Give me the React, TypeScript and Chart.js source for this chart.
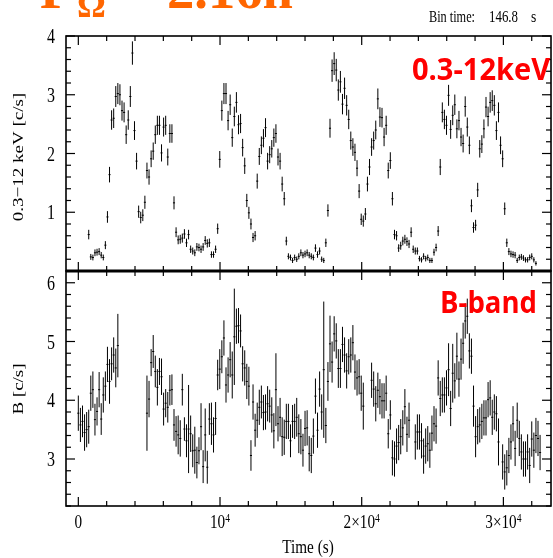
import React, { useEffect, useRef } from "react";
import { Chart, registerables } from "chart.js";

Chart.register(...registerables);

// ---------- data ----------
const BIN_TIME = 146.8;
const XRAY_START = 734;
const B_START = 0;
const X_MIN = -870;
const X_MAX = 33360;
const TOP_Y_MIN = 0;
const TOP_Y_MAX = 4;
const BOT_Y_MIN = 2.2;
const BOT_Y_MAX = 6.2;

const xrayRate = [
  0.62, 0.24, 0.23, 0.31, 0.32, 0.33, 0.27, 0.23, 0.44, 0.92,
  1.64, 2.57, 2.6, 2.97, 3.02, 3.0, 2.73, 2.7, 2.32, 2.57,
  2.97, 3.71, 2.39, 1.87, 1.01, 0.91, 0.95, 1.17, 1.71, 1.6,
  1.91, 2.04, 2.32, 2.48, 2.48, 2.01, 2.45, 2.48, 1.94, 2.34,
  2.34, 1.16, 0.66, 0.53, 0.54, 0.56, 0.63, 0.48, 0.62, 0.37,
  0.34, 0.31, 0.41, 0.4, 0.37, 0.41, 0.52, 0.47, 0.48, 0.28,
  0.28, 0.37, 0.72, 1.9, 2.73, 3.02, 3.02, 2.56, 2.83, 2.27,
  2.63, 2.87, 2.49, 2.51, 2.1, 1.79, 1.2, 0.99, 0.8, 0.57,
  0.6, 1.53, 1.95, 2.14, 2.26, 2.44, 1.87, 1.98, 2.08, 2.27,
  2.34, 1.94, 1.87, 1.48, 1.23, 0.51, 0.25, 0.23, 0.18, 0.23,
  0.2, 0.25, 0.31, 0.27, 0.29, 0.31, 0.27,
  0.25, 0.23, 0.39, 0.28, 0.34, 0.2, 0.18, 0.48, 1.03, 2.43,
  3.41, 3.53, 3.42, 3.08, 3.22, 2.84, 3.11, 2.82, 2.58, 2.22,
  2.11, 2.02, 1.75, 1.36, 0.88, 0.85, 0.97, 1.48, 1.77, 2.11,
  2.22, 2.4, 2.93, 2.62, 2.61, 2.28, 2.48, 1.71, 1.88, 1.23,
  0.62, 0.6, 0.39, 0.43, 0.51, 0.54, 0.5, 0.46, 0.66, 0.37,
  0.34, 0.34, 0.21, 0.19, 0.25, 0.21, 0.23, 0.18, 0.18, 0.32,
  0.4, 0.68, 1.77, 2.7, 2.58, 2.48, 2.99, 2.41, 2.65, 2.83,
  2.42, 2.56, 2.28, 2.17, 2.8, 2.45, 2.14, 1.11, 0.74, 0.78,
  1.38, 2.08, 2.16, 2.42, 2.79, 2.63, 2.87, 2.9, 2.82, 2.39,
  2.7, 2.14, 1.91, 1.06, 0.48, 0.33, 0.29, 0.28, 0.27, 0.18,
  0.23, 0.24, 0.22, 0.19, 0.19, 0.23, 0.25, 0.19, 0.13,
];

const N = null;
const bRate: (number | null)[] = [
  3.78, 3.58, 3.64, 3.45, 3.5, 3.55, 4.12, 4.18, 3.67, 3.81,
  4.18, 3.68, 4.09, 4.24, 4.61, 4.32, 4.62, 4.77, 4.55, 4.93,
  N, N, N, N, N, N, N, N, N, N, N, N, N,
  3.78, 4.02, 4.64, 4.83, 4.49, 4.22, 4.49, 4.4, 3.85, 3.95,
  3.88, 4.17, 4.18, 3.58, 3.47, 3.41, 3.35, 4.18, 3.51, 3.31,
  3.51, 3.43, 3.14, 3.15, 2.94, 3.14, 3.55, 2.87, 3.41, 2.86,
  3.68, 3.6, 3.41, 3.69, 4.43, 4.53, 4.74, 5.06, 4.26, 4.43,
  4.69, 4.43, 5.08, 5.26, 5.27, 5.18, 4.62, 4.55, 4.32, 4.24,
  3.06, 3.97, 3.49, 3.66, 3.88, 3.97, 3.79, 3.8, 3.94, 3.9,
  3.75, 3.48, 4.18, 3.6, 3.71, 3.38, 3.37, 3.64, 3.64, 3.31,
  3.64, 3.64, 3.71, 3.43, 3.38, 3.15, 3.52, 3.53, 3.09, 3.06,
  3.39, 4.07, 3.49, 4.19, 3.8, 4.52, 3.57, 4.32, 4.96, 4.65,
  5.13, 5.01, 4.54, 4.54, 4.95, 4.77, 4.5, 4.74, 4.77, 4.98,
  4.48, 4.38, 4.4, 4.12, 3.9,
  N, N, N,
  4.34, 4.19, 3.94, 4.17, 4.06, 3.99, 3.99, 4.12, 3.43, 3.75, 3.02,
  3.0, 3.22, 3.28, 3.38, 3.53, 3.89, 3.42, 3.66,
  N, N,
  3.29, 3.46, 3.46, 3.31, 3.05, 3.22, 3.26, 3.15, 3.44, 3.6, 3.56,
  4.38, 4.03, 4.09, 4.09, 4.21, 4.52, 3.86, 4.46, 4.33, 4.75,
  4.36, 4.7, 4.97, 5.35, 5.43, 4.84, 4.75, 3.9, 3.38, 3.55,
  3.58, 3.64, 3.7, 3.7, 4.01, 4.04, 3.71, 3.8, 3.77, 3.29,
  N,
  2.95, 2.78, 2.85, 3.06, 3.29, 3.6, 3.18, 3.66, 3.35, 3.12,
  3.0, 3.0, 3.12, 2.89, 3.34, 3.15, 3.4, 3.35, 3.11,
];

const bErr: (number | null)[] = [
  0.3, 0.29, 0.27, 0.31, 0.3, 0.29, 0.3, 0.31, 0.27, 0.24,
  0.3, 0.27, 0.3, 0.25, 0.3, 0.38, 0.28, 0.3, 0.33, 0.54,
  N, N, N, N, N, N, N, N, N, N, N, N, N,
  0.64, 0.31, 0.23, 0.28, 0.27, 0.31, 0.23, 0.31, 0.28, 0.24,
  0.26, 0.26, 0.26, 0.27, 0.26, 0.33, 0.31, 0.27, 0.2, 0.28,
  0.75, 0.31, 0.28, 0.4, 0.27, 0.23, 0.4, 0.28, 0.45, 0.28,
  0.27, 0.36, 0.3, 0.28, 0.26, 0.34, 0.28, 0.3, 0.3, 0.3,
  0.3, 0.4, 0.82, 0.3, 0.3, 0.28, 0.3, 0.3, 0.3, 0.33,
  0.26, 0.3, 0.28, 0.3, 0.3, 0.28, 0.3, 0.3, 0.3, 0.28,
  0.3, 0.3, 0.62, 0.3, 0.33, 0.33, 0.3, 0.3, 0.3, 0.28,
  0.28, 0.3, 0.33, 0.33, 0.3, 0.28, 0.3, 0.3, 0.3, 0.3,
  0.3, 0.3, 0.3, 0.3, 0.3, 1.16, 0.3, 0.33, 0.48, 0.35,
  0.3, 0.3, 0.33, 0.33, 0.3, 0.3, 0.3, 0.3, 0.3, 0.3,
  0.3, 0.3, 0.3, 0.3, 0.4,
  N, N, N,
  0.3, 0.3, 0.3, 0.3, 0.3, 0.3, 0.3, 0.3, 0.25, 0.25, 0.3,
  0.3, 0.3, 0.3, 0.3, 0.3, 0.3, 0.3, 0.3,
  N, N,
  0.3, 0.3, 0.3, 0.3, 0.3, 0.3, 0.3, 0.3, 0.3, 0.3, 0.3,
  0.3, 0.3, 0.3, 0.3, 0.3, 0.45, 0.3, 0.5, 0.3, 0.4,
  0.3, 0.35, 0.35, 0.3, 0.3, 0.3, 0.3, 0.35, 0.35, 0.3,
  0.3, 0.3, 0.3, 0.3, 0.3, 0.3, 0.3, 0.3, 0.3, 0.4,
  N,
  0.3, 0.3, 0.3, 0.3, 0.3, 0.3, 0.3, 0.3, 0.3, 0.3,
  0.3, 0.3, 0.3, 0.3, 0.3, 0.3, 0.3, 0.3, 0.3,
];

const xMajorTicks = [0, 10000, 20000, 30000];
const xTickBase = ["0", "10", "2×10", "3×10"];
const xTickExp = ["", "4", "4", "4"];
const topYTicks = [1, 2, 3, 4];
const botYTicks = [3, 4, 5, 6];

// ---------- drawing helpers ----------
const SERIF = '"Liberation Serif", "Times New Roman", serif';
const SANS = '"Open Sans", "Liberation Sans", Arial, sans-serif';
const SX = 0.8;

function drawText(ctx: any, text: string, x: number, y: number, font: string, color: string, sx = 1, align = "left") {
  ctx.save();
  ctx.font = font;
  ctx.fillStyle = color;
  const w = ctx.measureText(text).width * sx;
  let left = x;
  if (align === "center") left = x - w / 2;
  else if (align === "right") left = x - w;
  ctx.translate(left, y);
  ctx.scale(sx, 1);
  ctx.textAlign = "left";
  ctx.textBaseline = "alphabetic";
  ctx.fillText(text, 0, 0);
  ctx.restore();
}

function drawFit(ctx: any, text: string, left: number, y: number, font: string, color: string, width: number) {
  ctx.save();
  ctx.font = font;
  const w = ctx.measureText(text).width;
  ctx.restore();
  drawText(ctx, text, left, y, font, color, width / w, "left");
}

function drawRot(ctx: any, text: string, cx: number, cy: number, font: string, sx: number) {
  ctx.save();
  ctx.font = font;
  ctx.fillStyle = "#000";
  ctx.translate(cx, cy);
  ctx.scale(sx, 1);
  ctx.rotate(-Math.PI / 2);
  ctx.textAlign = "center";
  ctx.textBaseline = "middle";
  ctx.fillText(text, 0, 0);
  ctx.restore();
}

function line(ctx: any, x1: number, y1: number, x2: number, y2: number) {
  ctx.beginPath();
  ctx.moveTo(x1, y1);
  ctx.lineTo(x2, y2);
  ctx.stroke();
}

function drawFrameTicks(chart: any, yMin: number, yMax: number, yLabels: number[]) {
  const { ctx, chartArea } = chart;
  const { left, right, top, bottom } = chartArea;
  const xs = chart.scales.x;
  const ys = chart.scales.y;
  ctx.save();
  ctx.strokeStyle = "#000";
  ctx.lineWidth = 1.2;
  for (let t = 0; t <= X_MAX; t += 2000) {
    const px = xs.getPixelForValue(t);
    const len = t % 10000 === 0 ? 9 : 5;
    line(ctx, px, top, px, top + len);
    line(ctx, px, bottom, px, bottom - len);
  }
  const n = Math.round((yMax - yMin) / 0.2);
  for (let k = 0; k <= n; k++) {
    const v = yMin + k * 0.2;
    const py = ys.getPixelForValue(v);
    const major = Math.abs(v - Math.round(v)) < 1e-6;
    const len = major ? 9 : 5;
    line(ctx, left, py, left + len, py);
    line(ctx, right, py, right - len, py);
  }
  ctx.lineWidth = 1.6;
  ctx.strokeRect(left, top, right - left, bottom - top);
  ctx.restore();
  const yFont = `20px ${SERIF}`;
  yLabels.forEach((v) => {
    const py = ys.getPixelForValue(v);
    drawText(ctx, String(v), 55, py + 7, yFont, "#000", SX, "right");
  });
}

const errorBarPlugin = {
  id: "errorBars",
  afterDatasetsDraw(chart: any) {
    const { ctx, chartArea } = chart;
    const xs = chart.scales.x;
    const ys = chart.scales.y;
    ctx.save();
    ctx.beginPath();
    ctx.rect(chartArea.left, chartArea.top, chartArea.right - chartArea.left, chartArea.bottom - chartArea.top);
    ctx.clip();
    ctx.strokeStyle = "#000";
    ctx.lineWidth = 1;
    chart.data.datasets.forEach((ds: any, di: number) => {
      const meta = chart.getDatasetMeta(di);
      meta.data.forEach((el: any, i: number) => {
        const p = ds.data[i];
        const x = el.x;
        const y = el.y;
        const y1 = ys.getPixelForValue(p.y - p.err);
        const y2 = ys.getPixelForValue(p.y + p.err);
        const xa = xs.getPixelForValue(p.x - BIN_TIME / 2);
        const xb = xs.getPixelForValue(p.x + BIN_TIME / 2);
        ctx.beginPath();
        ctx.moveTo(x, y1);
        ctx.lineTo(x, y2);
        ctx.moveTo(xa, y);
        ctx.lineTo(xb, y);
        ctx.stroke();
      });
    });
    ctx.restore();
  },
};

const topDecor = {
  id: "topDecor",
  afterDraw(chart: any) {
    const { ctx, chartArea } = chart;
    drawFrameTicks(chart, TOP_Y_MIN, TOP_Y_MAX, topYTicks);
    ctx.save();
    ctx.strokeStyle = "#000";
    ctx.lineWidth = 3;
    line(ctx, chartArea.left, chartArea.bottom, chartArea.right, chartArea.bottom);
    ctx.restore();
    // y title
    drawRot(ctx, "0.3\u221212 keV [c/s]", 19, 157, `19px ${SERIF}`, SX);
    // title (cropped at top)
    const orange = "#FF6600";
    drawText(ctx, "P", 40, 8, `bold 54px ${SERIF}`, orange);
    drawText(ctx, "\u03A9", 77, 17, `bold 36px ${SERIF}`, orange);
    drawText(ctx, "=", 118, 8, `bold 54px ${SERIF}`, orange);
    drawFit(ctx, "2.16h", 167, 8, `bold 54px ${SERIF}`, orange, 126);
    // bin time
    drawFit(ctx, "Bin time:", 429, 22, `17px ${SERIF}`, "#000", 46);
    drawFit(ctx, "146.8", 489, 22, `17px ${SERIF}`, "#000", 29);
    drawText(ctx, "s", 531, 22, `17px ${SERIF}`, "#000", SX);
    // band label
    drawFit(ctx, "0.3-12keV", 412, 80, `bold 30px ${SANS}`, "#FF0000", 138);
  },
};

const BOT_OFFSET = 262;
const botDecor = {
  id: "botDecor",
  afterDraw(chart: any) {
    const { ctx } = chart;
    drawFrameTicks(chart, BOT_Y_MIN, BOT_Y_MAX, botYTicks);
    const xs = chart.scales.x;
    drawRot(ctx, "B [c/s]", 19, 389 - BOT_OFFSET, `19px ${SERIF}`, SX);
    const baseFont = `19px ${SERIF}`;
    const expFont = `12px ${SERIF}`;
    xMajorTicks.forEach((t, i) => {
      const px = xs.getPixelForValue(t);
      ctx.save();
      ctx.font = baseFont;
      const wb = ctx.measureText(xTickBase[i]).width * SX;
      ctx.font = expFont;
      const we = xTickExp[i] ? ctx.measureText(xTickExp[i]).width * SX : 0;
      ctx.restore();
      const start = px - (wb + we) / 2;
      const base = 528 - BOT_OFFSET;
      drawText(ctx, xTickBase[i], start, base, baseFont, "#000", SX);
      if (xTickExp[i]) drawText(ctx, xTickExp[i], start + wb, base - 6, expFont, "#000", SX);
    });
    drawText(ctx, "Time (s)", 308, 553 - BOT_OFFSET, `19px ${SERIF}`, "#000", SX, "center");
    drawFit(ctx, "B-band", 440, 313 - BOT_OFFSET, `bold 30px ${SANS}`, "#FF0000", 97);
  },
};

function makeConfig(points: any[], yMin: number, yMax: number, padding: any, decor: any): any {
  return {
    type: "scatter",
    data: {
      datasets: [
        { data: points, pointRadius: 0, pointHoverRadius: 0, showLine: false, borderColor: "#000", backgroundColor: "#000" },
      ],
    },
    options: {
      animation: false,
      responsive: false,
      maintainAspectRatio: false,
      devicePixelRatio: 1,
      events: [],
      layout: { padding },
      plugins: { legend: { display: false }, tooltip: { enabled: false }, title: { display: false } },
      scales: {
        x: { type: "linear", display: false, min: X_MIN, max: X_MAX },
        y: { type: "linear", display: false, min: yMin, max: yMax },
      },
    },
    plugins: [errorBarPlugin, decor],
  };
}

export default function App() {
  const topRef = useRef<HTMLCanvasElement>(null);
  const botRef = useRef<HTMLCanvasElement>(null);

  useEffect(() => {
    const xrayPoints = xrayRate.map((v, i) => ({
      x: XRAY_START + i * BIN_TIME,
      y: v,
      err: Math.sqrt(v / BIN_TIME) * 1.25,
    }));
    const bPoints: any[] = [];
    bRate.forEach((v, i) => {
      if (v == null) return;
      bPoints.push({ x: B_START + i * BIN_TIME, y: v, err: bErr[i] ?? 0.3 });
    });
    const top = new Chart(
      topRef.current as HTMLCanvasElement,
      makeConfig(xrayPoints, TOP_Y_MIN, TOP_Y_MAX, { left: 66, right: 2, top: 36, bottom: 9 }, topDecor)
    );
    const bot = new Chart(
      botRef.current as HTMLCanvasElement,
      makeConfig(bPoints, BOT_Y_MIN, BOT_Y_MAX, { left: 66, right: 2, top: 9, bottom: 52 }, botDecor)
    );
    return () => {
      top.destroy();
      bot.destroy();
    };
  }, []);

  return (
    <div style={{ position: "fixed", left: 0, top: 0, width: 553, height: 558, background: "#fff", overflow: "hidden" }}>
      <canvas ref={topRef} width={553} height={280} style={{ position: "absolute", left: 0, top: 0, width: 553, height: 280 }} />
      <canvas
        ref={botRef}
        width={553}
        height={296}
        style={{ position: "absolute", left: 0, top: BOT_OFFSET, width: 553, height: 296 }}
      />
    </div>
  );
}
